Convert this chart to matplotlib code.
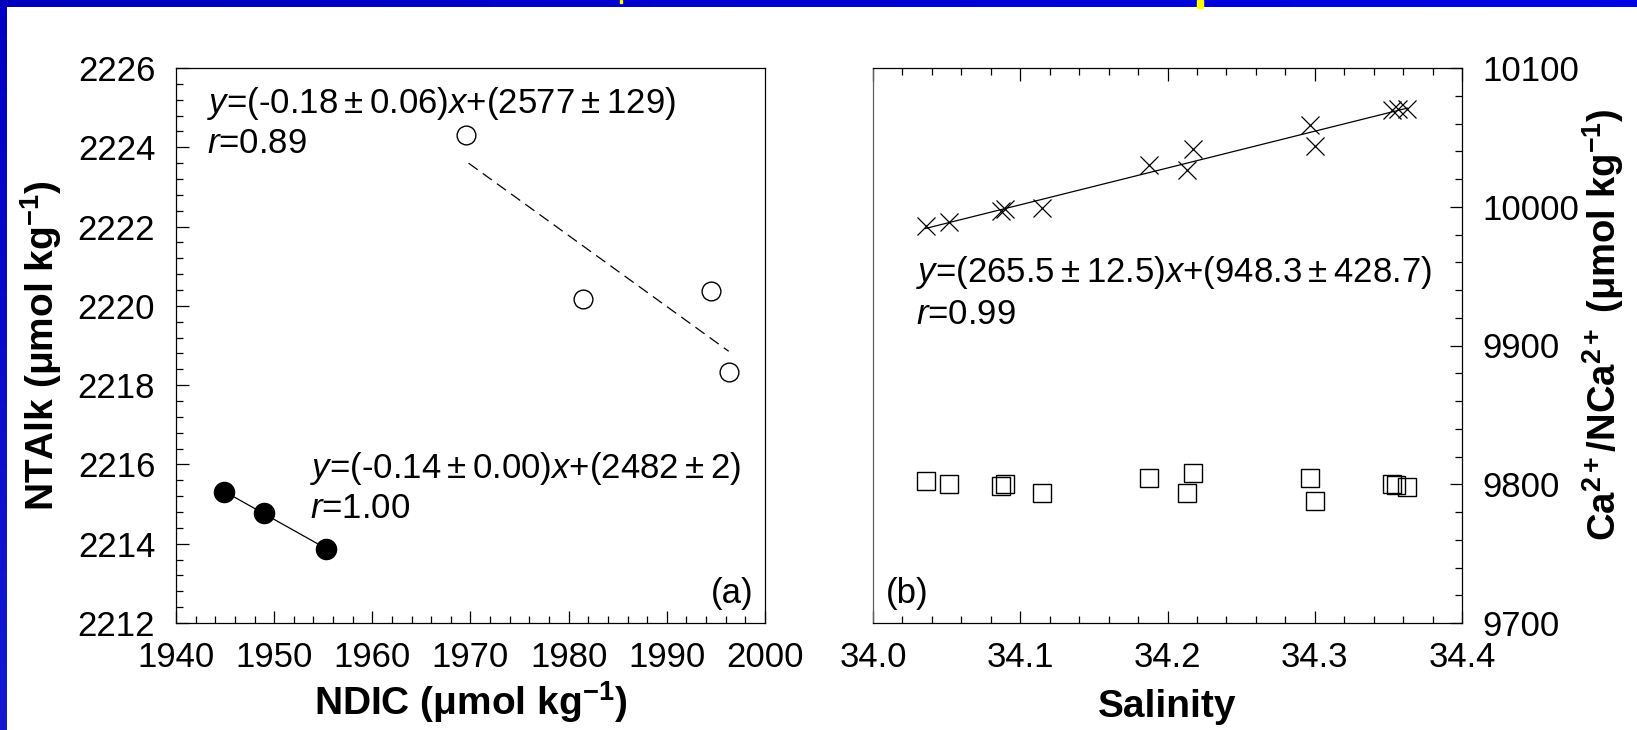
import numpy as np
import matplotlib
matplotlib.use('Agg')
import matplotlib.pyplot as plt
from matplotlib.ticker import MultipleLocator, FormatStrFormatter
from matplotlib.patches import Rectangle

plt.rcParams['font.family'] = ['Liberation Sans', 'DejaVu Sans']
plt.rcParams['mathtext.fontset'] = 'custom'
plt.rcParams['mathtext.rm'] = 'Liberation Sans'
plt.rcParams['mathtext.it'] = 'Liberation Sans:italic'
plt.rcParams['mathtext.bf'] = 'Liberation Sans:bold'

# ---- panel (a): NDIC vs NTAlk ----
ndic_filled = [1944.9, 1949.0, 1955.3]
ntalk_filled = [2215.31, 2214.77, 2213.87]

ndic_open = [1969.5, 1981.5, 1994.5, 1996.3]
ntalk_open = [2224.31, 2220.17, 2220.38, 2218.33]

# ---- panel (b): salinity vs Ca ----
sal_cross = [34.0357, 34.0519, 34.0868, 34.0899, 34.1147, 34.1874, 34.2134,
             34.2176, 34.2968, 34.3000, 34.3524, 34.3563, 34.3628]
ca_cross = [9986.2, 9989.3, 9996.7, 9998.3, 9999.4, 10029.8, 10026.4,
            10041.3, 10059.2, 10043.5, 10069.7, 10070.5, 10070.2]

sal_square = [34.0357, 34.0519, 34.0868, 34.0899, 34.1147, 34.1874, 34.2134,
              34.2176, 34.2968, 34.3000, 34.3524, 34.3550, 34.3628]
nca_square = [9802.2, 9800.0, 9798.6, 9800.0, 9793.7, 9804.7, 9793.9,
              9808.0, 9804.7, 9788.2, 9800.0, 9799.4, 9797.8]

pm = r'$\:\pm\:$'
eq_a_open = r'$\mathit{y}$=(-0.18' + pm + r'0.06)$\mathit{x}$+(2577' + pm + '129)'
r_a_open = r'$\mathit{r}$=0.89'
eq_a_filled = r'$\mathit{y}$=(-0.14' + pm + r'0.00)$\mathit{x}$+(2482' + pm + '2)'
r_a_filled = r'$\mathit{r}$=1.00'
eq_b = r'$\mathit{y}$=(265.5' + pm + r'12.5)$\mathit{x}$+(948.3' + pm + '428.7)'
r_b = r'$\mathit{r}$=0.99'

W, H = 1637, 730
fig = plt.figure(figsize=(W / 100, H / 100), dpi=100)
fig.patch.set_facecolor('white')

# blue slide frame (slight gradients)
bar = fig.add_axes([0, 1 - 7 / H, 1, 7 / H])
grad = np.linspace(0, 1, 256)
top_cols = np.zeros((1, 256, 3))
top_cols[0, :, 1] = 0.02 * grad
top_cols[0, :, 2] = 0.74 + 0.16 * grad
bar.imshow(top_cols, aspect='auto', extent=(0, 1, 0, 1))
bar.axis('off')

side = fig.add_axes([0, 0, 7 / W, 1 - 7 / H])
side_cols = np.zeros((256, 1, 3))
side_cols[:, 0, 0] = 0.08 * grad
side_cols[:, 0, 1] = 0.10 * grad
side_cols[:, 0, 2] = 0.77 + 0.05 * grad
side.imshow(side_cols, aspect='auto', extent=(0, 1, 0, 1))
side.axis('off')

fig.patches.append(Rectangle((1197 / W, 1 - 8 / H), 6 / W, 8 / H, transform=fig.transFigure,
                             color='#ffff00', zorder=5))
fig.patches.append(Rectangle((620 / W, 1 - 3 / H), 2 / W, 3 / H, transform=fig.transFigure,
                             color='#ffff00', zorder=5))

ax1 = fig.add_axes([176 / W, 1 - 623 / H, 589 / W, 555 / H])
ax2 = fig.add_axes([873 / W, 1 - 623 / H, 589 / W, 555 / H])

tick_fs = 25
txt_fs = 25

# ---------- panel (a) ----------
ax1.plot(ndic_filled, ntalk_filled, 'o', ms=14.5, mfc='black', mec='black', zorder=3)
ax1.plot(ndic_open, ntalk_open, 'o', ms=13.5, mfc='white', mec='black', mew=1, zorder=3)

p = np.polyfit(ndic_filled, ntalk_filled, 1)
xx = np.array([min(ndic_filled), max(ndic_filled)])
ax1.plot(xx, np.polyval(p, xx), '-', color='black', lw=0.9, zorder=2)

p = np.polyfit(ndic_open, ntalk_open, 1)
xx = np.array([min(ndic_open) + 0.3, max(ndic_open)])
ax1.plot(xx, np.polyval(p, xx), color='black', lw=0.9, dashes=(9, 5), zorder=2)

ax1.text(1943.2, 2225.1, eq_a_open, fontsize=txt_fs, va='center', ha='left')
ax1.text(1943.2, 2224.1, r_a_open, fontsize=txt_fs, va='center', ha='left')
ax1.text(1953.6, 2215.9, eq_a_filled, fontsize=txt_fs, va='center', ha='left')
ax1.text(1953.6, 2214.9, r_a_filled, fontsize=txt_fs, va='center', ha='left')
ax1.text(1998.8, 2212.75, '(a)', fontsize=txt_fs, va='center', ha='right')

ax1.set_xlim(1940, 2000)
ax1.set_ylim(2212, 2226)
ax1.xaxis.set_major_locator(MultipleLocator(10))
ax1.xaxis.set_minor_locator(MultipleLocator(2))
ax1.yaxis.set_major_locator(MultipleLocator(2))
ax1.yaxis.set_minor_locator(MultipleLocator(0.4))
ax1.tick_params(which='both', direction='in', top=False, right=False, width=0.9)
ax1.tick_params(which='major', length=9)
ax1.tick_params(which='minor', length=5)
ax1.tick_params(axis='x', labelsize=tick_fs, pad=13)
ax1.tick_params(axis='y', labelsize=tick_fs, pad=15)

ax1.set_xlabel(r'NDIC ($\mathbf{\mu}$mol kg$^{\mathbf{-1}}$)', fontsize=28, fontweight='bold')
ax1.set_ylabel(r'NTAlk ($\mathbf{\mu}$mol kg$^{\mathbf{-1}}$)', fontsize=28, fontweight='bold')
ax1.xaxis.label.set_va('bottom')
ax1.xaxis.set_label_coords(0.5, -0.183)
ax1.yaxis.set_label_coords(-0.19, 0.5)

# ---------- panel (b) ----------
ax2.plot(sal_cross, ca_cross, 'x', ms=13, mec='black', mew=0.9, zorder=3)
ax2.plot(sal_square, nca_square, 's', ms=12.5, mfc='none', mec='black', mew=1, zorder=3)

p = np.polyfit(sal_cross, ca_cross, 1)
xx = np.array([min(sal_cross), max(sal_cross)])
ax2.plot(xx, np.polyval(p, xx), '-', color='black', lw=0.9, zorder=2)

ax2.text(34.029, 9952.6, eq_b, fontsize=txt_fs, va='center', ha='left')
ax2.text(34.029, 9922.3, r_b, fontsize=txt_fs, va='center', ha='left')
ax2.text(34.009, 9721.5, '(b)', fontsize=txt_fs, va='center', ha='left')

ax2.set_xlim(34.0, 34.4)
ax2.set_ylim(9700, 10100)
ax2.xaxis.set_major_locator(MultipleLocator(0.1))
ax2.xaxis.set_minor_locator(MultipleLocator(0.02))
ax2.yaxis.set_major_locator(MultipleLocator(100))
ax2.yaxis.set_minor_locator(MultipleLocator(20))
ax2.xaxis.set_major_formatter(FormatStrFormatter('%.1f'))
ax2.yaxis.tick_right()
ax2.yaxis.set_label_position('right')
ax2.tick_params(which='both', direction='in', top=True, left=False, right=True, width=0.9)
ax2.tick_params(which='major', length=9)
ax2.tick_params(which='minor', length=5)
ax2.tick_params(axis='x', labelsize=tick_fs, pad=13)
ax2.tick_params(axis='y', labelsize=tick_fs, pad=15)

ax2.set_xlabel('Salinity', fontsize=28, fontweight='bold')
ax2.set_ylabel(r'Ca$^{\mathbf{2+}}$/NCa$^{\mathbf{2+}}$ ($\mathbf{\mu}$mol kg$^{\mathbf{-1}}$)',
               fontsize=27.5, fontweight='bold')
ax2.xaxis.label.set_va('bottom')
ax2.xaxis.set_label_coords(0.5, -0.183)
ax2.yaxis.set_label_coords(1.20, 0.537)

for ax in (ax1, ax2):
    for s in ax.spines.values():
        s.set_linewidth(0.9)
ax2.spines['left'].set_color('#606060')

fig.savefig('out.png', dpi=100)
